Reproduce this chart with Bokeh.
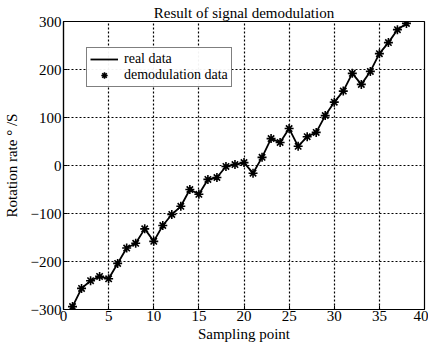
from bokeh.plotting import figure
from bokeh.models import Range1d, FixedTicker, Legend, LegendItem
from bokeh.embed import file_html
from bokeh.resources import INLINE

sample_x = list(range(1, 39))
rate = [-294, -256, -240, -231, -236, -204, -172, -162, -132, -158,
        -125, -102, -85, -50, -60, -29, -25, -2, 2, 6,
        -16, 17, 56, 48, 77, 40, 60, 69, 104, 132,
        155, 192, 169, 196, 233, 256, 283, 296]
x_ticks = [0, 5, 10, 15, 20, 25, 30, 35, 40]
y_ticks = [-300, -200, -100, 0, 100, 200, 300]

SERIF = "Liberation Serif"

p = figure(width=428, height=354, output_backend="svg", toolbar_location=None,
           x_range=Range1d(0, 40), y_range=Range1d(-300, 300),
           min_border_left=52, min_border_right=4, min_border_top=21, min_border_bottom=45,
           title="Result of signal demodulation")
p.title.align = "center"
p.title.text_font = SERIF
p.title.text_font_size = "15px"
p.title.text_font_style = "normal"
p.title.text_color = "black"
p.title.offset = 0
p.title.standoff = 2

p.xgrid.grid_line_color = "black"
p.ygrid.grid_line_color = "black"
p.xgrid.grid_line_alpha = 1.0
p.ygrid.grid_line_alpha = 1.0
p.xgrid.grid_line_dash = "2 2"
p.ygrid.grid_line_dash = "2 2"
p.xgrid.grid_line_width = 1.2
p.ygrid.grid_line_width = 1.2

line_r = p.line(sample_x, rate, line_color="black", line_width=1.8)
pts_r = p.scatter(sample_x, rate, marker="asterisk", size=9, line_color="black", line_width=1.6)

p.xaxis.ticker = FixedTicker(ticks=x_ticks)
p.yaxis.ticker = FixedTicker(ticks=y_ticks)
for ax in (p.xaxis, p.yaxis):
    ax.major_tick_in = 4
    ax.major_tick_out = 0
    ax.minor_tick_in = 0
    ax.minor_tick_out = 0
    ax.axis_line_color = "black"
    ax.axis_line_width = 1.2
    ax.major_tick_line_color = "black"
    ax.major_label_text_font = SERIF
    ax.major_label_text_font_size = "15px"
    ax.major_label_text_font_style = "normal"
    ax.major_label_text_color = "black"
    ax.axis_label_text_font = SERIF
    ax.axis_label_text_font_size = "15px"
    ax.axis_label_text_font_style = "normal"
    ax.axis_label_text_color = "black"
p.xaxis.axis_label = "Sampling point"
p.yaxis.axis_label = "Rotation rate ° /S"
p.xaxis.major_label_standoff = 1
p.yaxis.major_label_standoff = 2
p.xaxis.axis_label_standoff = 2
p.yaxis.axis_label_standoff = 8

p.outline_line_color = "black"
p.outline_line_width = 1.2

legend = Legend(items=[LegendItem(label="real data", renderers=[line_r]),
                       LegendItem(label="demodulation data", renderers=[pts_r])],
                location=(23, 222))
legend.label_text_font = SERIF
legend.label_text_font_size = "14px"
legend.label_text_font_style = "normal"
legend.label_text_color = "black"
legend.border_line_color = "black"
legend.border_line_width = 1.2
legend.padding = 3
legend.spacing = 0
legend.margin = 0
legend.glyph_height = 16
legend.glyph_width = 28
legend.label_height = 16
legend.label_standoff = 6
p.add_layout(legend)

open("out.html", "w").write(file_html(p, INLINE))
